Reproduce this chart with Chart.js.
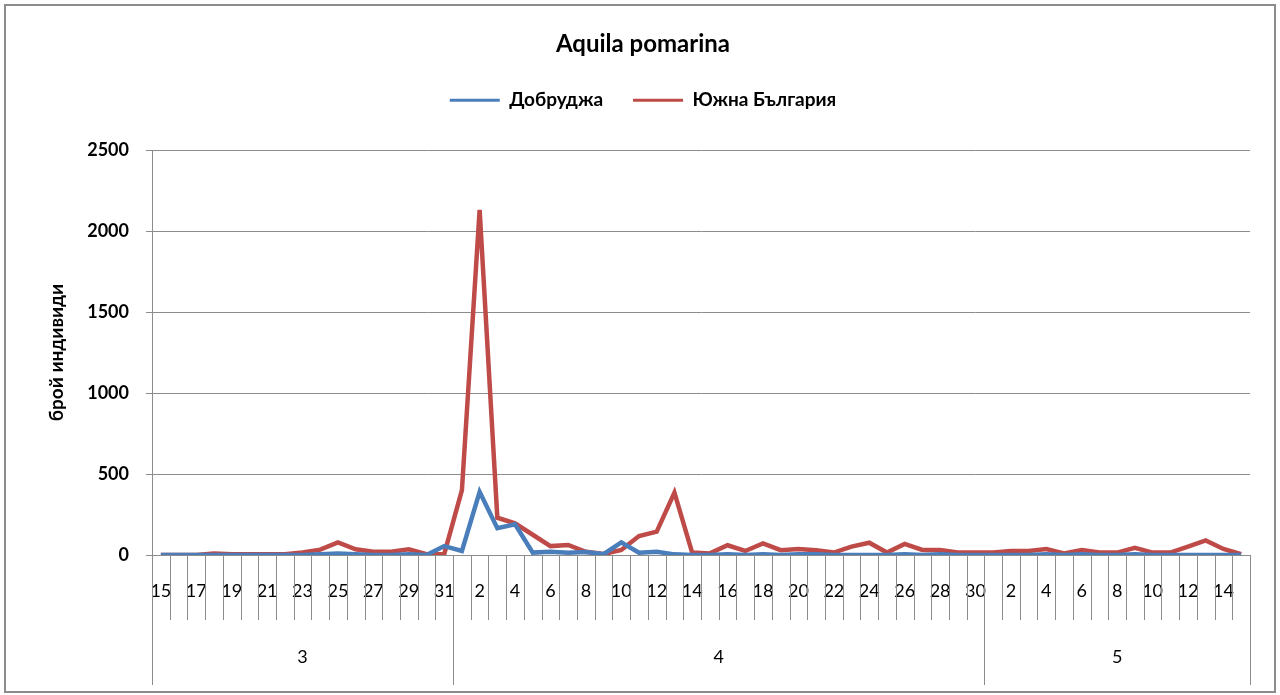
<!DOCTYPE html>
<html>
<head>
<meta charset="utf-8">
<script src="https://cdn.jsdelivr.net/npm/chart.js@4/dist/chart.umd.min.js"></script>
<style>
  html, body { margin: 0; padding: 0; background: #fff; }
  #wrap { width: 1280px; height: 695px; position: relative; }
</style>
</head>
<body>
<div id="wrap"><canvas id="chart"></canvas></div>
<script>
// day labels, March 15 - May 15
const dayLabels = [
  '15','16','17','18','19','20','21','22','23','24','25','26','27','28','29','30','31',
  '1','2','3','4','5','6','7','8','9','10','11','12','13','14','15','16','17','18','19','20',
  '21','22','23','24','25','26','27','28','29','30',
  '1','2','3','4','5','6','7','8','9','10','11','12','13','14','15'
];
const monthLabels = ['3', '4', '5'];
const monthLengths = [17, 30, 15];

const dobrudzha = [
  0, 0, 0, 0, 0, 0, 0, 0, 0, 5, 10, 5, 0, 0, 5, 0, 55,
  25, 390, 165, 190, 15, 20, 14, 18, 5, 78, 14, 20, 4, 0,
  0, 5, 0, 5, 0, 5, 5, 0, 0, 0, 0, 5, 0, 5, 0, 0,
  0, 0, 0, 5, 0, 5, 0, 0, 5, 0, 0, 0, 0, 0, 0
];
const yuzhna = [
  0, 0, 0, 10, 5, 5, 5, 5, 15, 33, 78, 35, 20, 20, 35, 5, 5,
  400, 2130, 230, 195, 125, 55, 62, 20, 6, 31, 117, 144, 385, 15,
  10, 60, 25, 72, 30, 37, 30, 15, 52, 76, 15, 68, 31, 31, 15, 15,
  15, 25, 25, 37, 10, 30, 15, 15, 45, 15, 15, 52, 90, 37, 5
];

const FONT = 'Lato, "Open Sans", sans-serif';
const GRID = '#8c8c8c';

// frame round the whole chart and the lower part of the category axis
const excelAxis = {
  id: 'excelAxis',
  beforeDraw(chart) {
    const ctx = chart.ctx;
    ctx.save();
    ctx.fillStyle = '#fff';
    ctx.fillRect(0, 0, chart.width, chart.height);
    ctx.strokeStyle = '#8c8c8c';
    ctx.lineWidth = 2;
    ctx.strokeRect(5, 5, chart.width - 10, chart.height - 8);
    ctx.restore();
  },
  afterDraw(chart) {
    const ctx = chart.ctx;
    const x = chart.scales.x;
    const top = chart.chartArea.bottom;
    const step = x.getPixelForValue(1) - x.getPixelForValue(0);
    const edge = i => x.getPixelForValue(0) - step / 2 + i * step;
    ctx.save();
    ctx.strokeStyle = GRID;
    ctx.lineWidth = 1;
    // month boundaries
    const bounds = [0];
    monthLengths.forEach(n => bounds.push(bounds[bounds.length - 1] + n));
    for (let i = 0; i <= dayLabels.length; i++) {
      const px = Math.round(edge(i)) + 0.5;
      const isMonth = bounds.includes(i);
      ctx.beginPath();
      ctx.moveTo(px, top);
      ctx.lineTo(px, isMonth ? top + 130 : top + 65);
      ctx.stroke();
    }
    ctx.fillStyle = '#000';
    ctx.font = '18px ' + FONT;
    ctx.textAlign = 'center';
    ctx.textBaseline = 'middle';
    monthLabels.forEach((m, k) => {
      const cx = (edge(bounds[k]) + edge(bounds[k + 1])) / 2;
      ctx.fillText(m, cx, top + 102);
    });
    ctx.restore();
  }
};

new Chart(document.getElementById('chart'), {
  type: 'line',
  data: {
    labels: dayLabels,
    datasets: [
      {
        label: 'Добруджа',
        data: dobrudzha,
        borderColor: '#4a7ebb',
        backgroundColor: '#4a7ebb',
        borderWidth: 4.5,
        pointRadius: 0,
        tension: 0
      },
      {
        label: 'Южна България',
        data: yuzhna,
        borderColor: '#be4b48',
        backgroundColor: '#be4b48',
        borderWidth: 4.5,
        pointRadius: 0,
        tension: 0
      }
    ]
  },
  options: {
    responsive: true,
    maintainAspectRatio: false,
    animation: false,
    layout: { padding: { left: 36, right: 30, top: 0, bottom: 0 } },
    plugins: {
      title: {
        display: true,
        text: 'Aquila pomarina',
        color: '#000',
        font: { family: FONT, size: 24, weight: 'bold' },
        padding: { top: 30, bottom: 2 }
      },
      legend: {
        display: true,
        labels: {
          color: '#000',
          font: { family: FONT, size: 19, weight: 'bold' },
          boxWidth: 50,
          boxHeight: 3,
          padding: 30,
          // thin legend lines, no outline
          generateLabels: chart =>
            Chart.defaults.plugins.legend.labels.generateLabels(chart)
              .map(l => Object.assign(l, { lineWidth: 0 }))
        }
      },
      // empty spacer between the legend and the plot
      subtitle: {
        display: true,
        text: ' ',
        weight: 500,
        font: { size: 10 },
        padding: { top: 10, bottom: 8.2 }
      },
      tooltip: { enabled: false }
    },
    scales: {
      x: {
        offset: true,
        grid: { display: false, offset: true },
        border: { display: true, color: GRID },
        afterFit(scale) { scale.height = 140; },
        ticks: {
          autoSkip: false,
          maxRotation: 0,
          minRotation: 0,
          padding: 17,
          color: '#000',
          font: { family: FONT, size: 18 },
          callback: (v, i) => (i % 2 === 0 ? dayLabels[i] : '')
        }
      },
      y: {
        min: 0,
        max: 2500,
        afterFit(scale) { scale.width = 116; },
        border: { display: true, color: GRID },
        grid: { color: GRID, tickLength: 6, drawTicks: true },
        ticks: {
          stepSize: 500,
          padding: 17,
          color: '#000',
          font: { family: FONT, size: 18, weight: 'bold' },
          callback: v => String(v)
        },
        title: {
          display: true,
          text: 'брой индивиди',
          color: '#000',
          font: { family: FONT, size: 19, weight: 'bold' },
          padding: { top: 9, bottom: 0 }
        }
      }
    }
  },
  plugins: [excelAxis]
});
</script>
</body>
</html>
